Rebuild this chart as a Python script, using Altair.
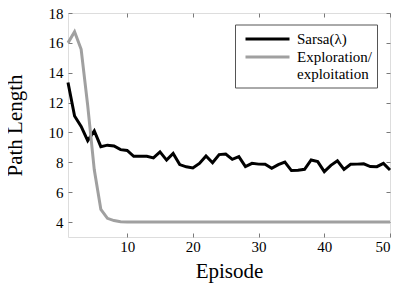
import altair as alt
import pandas as pd

episodes = list(range(1, 51))
sarsa = [13.35, 11.1, 10.4, 9.45, 10.1, 9.05, 9.15, 9.1, 8.85, 8.8,
         8.4, 8.4, 8.4, 8.3, 8.7, 8.15, 8.6, 7.85, 7.7, 7.62,
         7.93, 8.43, 7.97, 8.52, 8.56, 8.2, 8.38, 7.71, 7.93, 7.88,
         7.87, 7.6, 7.85, 8.02, 7.45, 7.47, 7.53, 8.16, 8.05, 7.38,
         7.8, 8.1, 7.53, 7.87, 7.88, 7.9, 7.72, 7.71, 7.93, 7.49]
explore = [16.0, 16.75, 15.57, 11.8, 7.5, 4.85, 4.25, 4.1, 4.02, 4.0,
           4.0, 4.0, 4.0, 4.0, 4.0, 4.0, 4.0, 4.0, 4.0, 4.0,
           4.0, 4.0, 4.0, 4.0, 4.0, 4.0, 4.0, 4.0, 4.0, 4.0,
           4.0, 4.0, 4.0, 4.0, 4.0, 4.0, 4.0, 4.0, 4.0, 4.0,
           4.0, 4.0, 4.0, 4.0, 4.0, 4.0, 4.0, 4.0, 4.0, 4.0]
series_names = ["Sarsa(λ)", "Exploration/exploitation"]
series_colors = ["#000000", "#a0a0a0"]
x_ticks = [10, 20, 30, 40, 50]
y_ticks = [4, 6, 8, 10, 12, 14, 16, 18]

df = pd.DataFrame({
    "Episode": episodes + episodes,
    "Path": sarsa + explore,
    "Series": [series_names[0]] * len(sarsa) + [series_names[1]] * len(explore),
})

W, H = 322, 224
FONT = "Liberation Serif"
FRAME = "#7a7a7a"

xs = alt.Scale(domain=[1, 50], nice=False, zero=False)
ys = alt.Scale(domain=[3, 18], nice=False, zero=False)


def tick_axis(orient, values, offset):
    return alt.Axis(orient=orient, values=values, labels=False, domain=False,
                    grid=False, ticks=True, tickSize=4, tickColor=FRAME,
                    tickWidth=1, offset=offset, title=None)


main = alt.Chart(df).mark_line(strokeWidth=3).encode(
    x=alt.X("Episode:Q", scale=xs, axis=alt.Axis(
        orient="bottom", values=x_ticks, ticks=False, tickSize=0, domain=False,
        grid=False, labelPadding=2, labelFont=FONT, labelFontSize=15,
        labelColor="black", title="Episode", titleFont=FONT, titleFontSize=21,
        titleFontWeight="normal", titleColor="black", titleY=40,
        titleBaseline="alphabetic")),
    y=alt.Y("Path:Q", scale=ys, axis=alt.Axis(
        orient="left", values=y_ticks, ticks=False, tickSize=0, domain=False,
        grid=False, labelPadding=5, labelFont=FONT, labelFontSize=15,
        labelColor="black", title="Path Length", titleFont=FONT,
        titleFontSize=21, titleFontWeight="normal", titleColor="black",
        titleX=-47, titleY=H / 2, titleBaseline="alphabetic")),
    color=alt.Color("Series:N", scale=alt.Scale(domain=series_names, range=series_colors),
                    legend=alt.Legend(
                        orient="none", legendX=167, legendY=11.5, title=None,
                        strokeColor="#555555", fillColor="white", padding=5,
                        symbolType="M-0.5,0H5", symbolSize=256, symbolStrokeWidth=3,
                        labelFont=FONT, labelFontSize=15, labelColor="black",
                        labelOffset=38, labelLimit=0, rowPadding=0,
                        gridAlign="none",
                        labelExpr="datum.label == 'Exploration/exploitation' ? ['Exploration/', 'exploitation'] : datum.label")),
)

ticks_a = alt.Chart(df).mark_line(strokeOpacity=0).encode(
    x=alt.X("Episode:Q", scale=xs, axis=tick_axis("top", x_ticks, -H)),
    y=alt.Y("Path:Q", scale=ys, axis=tick_axis("right", y_ticks, -W)),
    detail="Series:N",
)
ticks_b = alt.Chart(df).mark_line(strokeOpacity=0).encode(
    x=alt.X("Episode:Q", scale=xs, axis=tick_axis("bottom", x_ticks, -H)),
    y=alt.Y("Path:Q", scale=ys, axis=tick_axis("left", y_ticks, -W)),
    detail="Series:N",
)

chart = alt.layer(ticks_a, ticks_b, main).resolve_axis(
    x="independent", y="independent"
).properties(
    width=W, height=H, autosize="none",
    padding={"left": 60, "top": 5, "right": 5, "bottom": 50},
).configure_view(
    stroke=FRAME, strokeWidth=1.2
).configure_axis(
    labelFont=FONT, titleFont=FONT
).configure_legend(
    labelFont=FONT
).configure(background="white", font=FONT)

chart.save("out.html", embed_options={"renderer": "svg", "actions": False})
